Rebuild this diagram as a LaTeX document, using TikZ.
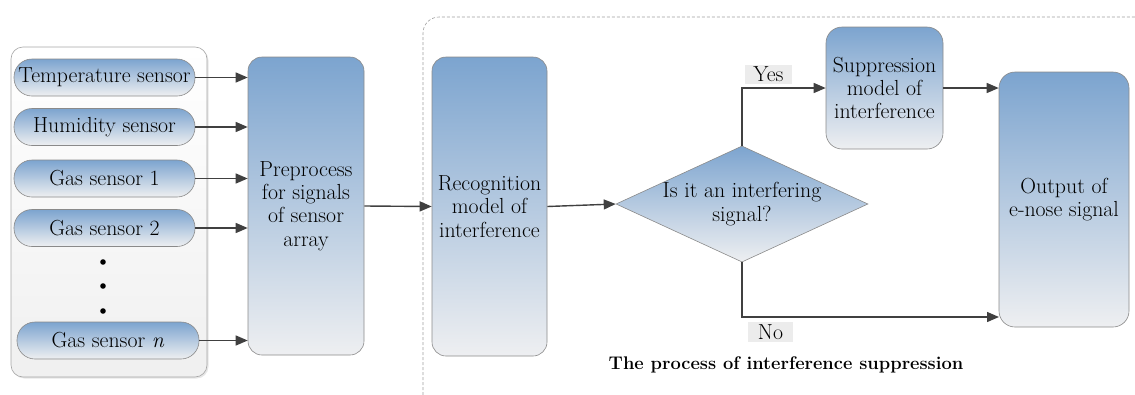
\documentclass[tikz,border=0pt]{standalone}
\usetikzlibrary{arrows.meta,shapes.geometric,shadows}
\definecolor{topblue}{HTML}{7CA4CF}
\definecolor{botgray}{HTML}{EEEFF1}
\definecolor{edgegray}{HTML}{8A8A8A}
\definecolor{arrowgray}{HTML}{404040}
\begin{document}
\begin{tikzpicture}[x=1pt,y=-1pt,
  txt/.style={font=\fontsize{21.8}{23.3}\selectfont},
  box/.style={draw=edgegray, line width=0.6pt, rounded corners=14pt, top color=topblue, bottom color=botgray, align=center, inner sep=0pt, txt},
  pill/.style={box, rounded corners=18pt, minimum width=181pt, minimum height=37pt},
  dec/.style={diamond, draw=edgegray, line width=0.6pt, top color=topblue, bottom color=botgray, align=center, inner sep=0pt, aspect=2.17, minimum width=252pt, minimum height=116pt, txt},
  lbl/.style={fill=gray!15, inner sep=1pt, txt},
  arr/.style={draw=arrowgray, line width=1.4pt, -{Triangle[length=12pt,width=10pt]}},
  frame/.style={draw=gray!75, line width=0.6pt, dash pattern=on 3pt off 2pt}
]
\useasboundingbox (0,0) rectangle (1135,394);
% left container
\draw[draw=gray!70, line width=0.6pt, rounded corners=12pt, top color=white, bottom color=gray!12, drop shadow={shadow xshift=1.5pt, shadow yshift=-1.5pt, opacity=0.2}] (11,47) rectangle (207,377);
% dashed frame
\draw[frame, rounded corners=16pt] (423,400) -- (423,17) -- (1140,17);
% sensors
\node[pill] (temp) at (104.5,77.5) {Temperature sensor};
\node[pill] (hum) at (104.5,127) {Humidity sensor};
\node[pill] (gas1) at (104.5,178.5) {Gas sensor 1};
\node[pill] (gas2) at (104.5,228) {Gas sensor 2};
\node[pill, minimum width=182pt] (gasn) at (108,340.5) {Gas sensor \textit{n}};
\fill (103,262) circle (2.8pt);
\fill (103,286) circle (2.8pt);
\fill (103,311) circle (2.8pt);
% main boxes
\node[box, minimum width=116pt, minimum height=298pt] (pre) at (306,206) {Preprocess\\for signals\\of sensor\\array};
\node[box, minimum width=115pt, minimum height=299pt] (rec) at (489.5,206.5) {Recognition\\model of\\interference};
\node[dec] (isint) at (742,204) {Is it an interfering\\signal?};
\node[box, rounded corners=16pt, minimum width=117pt, minimum height=122pt] (sup) at (884.5,88) {Suppression\\model of\\interference};
\node[box, rounded corners=16pt, minimum width=130pt, minimum height=255pt] (out) at (1064,199.5) {Output of\\e-nose signal};
\node[lbl, minimum width=47pt, minimum height=19pt] (yes) at (768.5,74) {Yes};
\node[lbl, minimum width=45pt, minimum height=20pt] (no) at (770.5,332) {No};
\node[font=\bfseries\fontsize{18.3}{22}\selectfont] (cap) at (786,365) {The process of interference suppression};
\coordinate (noin) at (999,317);
% arrows
\draw[arr] (temp.east) -- (temp.east -| pre.west);
\draw[arr] (hum.east) -- (hum.east -| pre.west);
\draw[arr] (gas1.east) -- (gas1.east -| pre.west);
\draw[arr] (gas2.east) -- (gas2.east -| pre.west);
\draw[arr] (gasn.east) -- (gasn.east -| pre.west);
\draw[arr] (pre.east) -- (rec.west);
\draw[arr] (rec.east) -- (isint.west);
\draw[arr] (isint.north) |- (sup.west);
\draw[arr] (sup.east) -- (sup.east -| out.west);
\draw[arr] (isint.south) |- (noin);
\end{tikzpicture}
\end{document}
